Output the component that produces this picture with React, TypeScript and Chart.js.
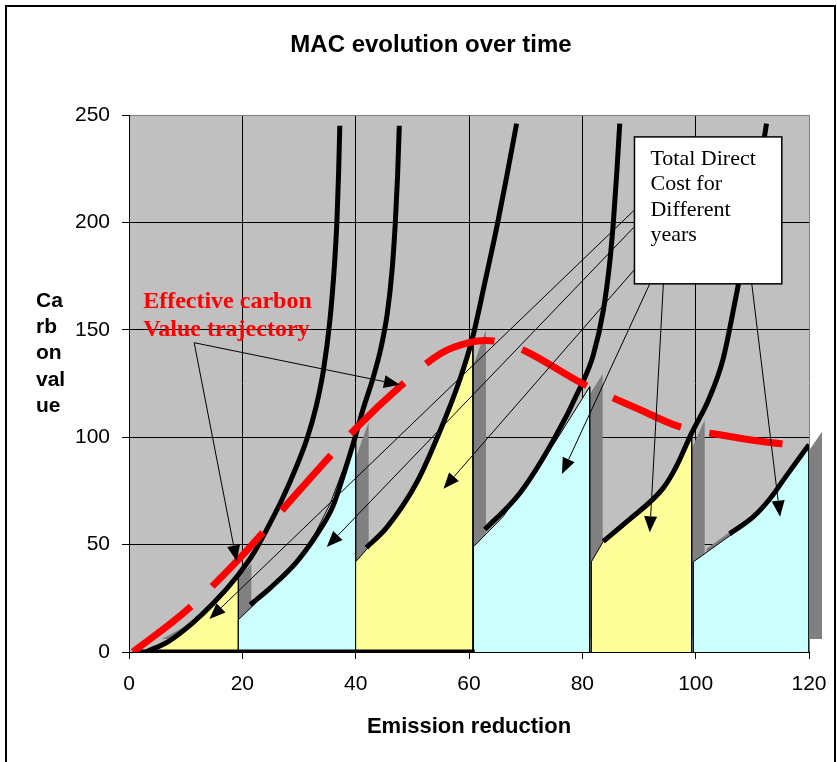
import React, { useEffect, useRef } from "react";
import { Chart, registerables } from "chart.js";

Chart.register(...registerables);

// ---------- text ----------
const chartTitle = "MAC evolution over time";
const xAxisTitle = "Emission reduction";
const yAxisTitleLines = ["Ca", "rb", "on", "val", "ue"];
const trajectoryLabel = ["Effective carbon", "Value trajectory"];
const costBoxLines = ["Total Direct", "Cost for", "Different", "years"];

// ---------- ticks ----------
const xTickValues = [0, 20, 40, 60, 80, 100, 120];
const yTickValues = [0, 50, 100, 150, 200, 250];

// ---------- total direct cost areas (one per year) ----------
const area1X = [3.5, 7, 11, 15, 19.3];
const area1Y = [0, 5, 13, 23, 35];
const area2X = [19.3, 24, 29.6, 33, 35.5, 37.8, 40];
const area2Y = [15, 27, 42, 56, 69, 85, 101];
const area3X = [40, 42, 45.5, 50.8, 54.9, 58.4, 60.7];
const area3Y = [42, 48, 57, 78, 103, 127, 144];
const area4X = [60.8, 66, 69, 75.5, 81.3];
const area4Y = [49, 63, 74, 99, 123.5];
const area5X = [81.6, 83.7, 94.3, 96.6, 99.3];
const area5Y = [42, 51.5, 76.4, 86.4, 102];
const area6X = [99.6, 110.2, 114.9, 120];
const area6Y = [42, 62, 77, 96.5];

// ---------- MAC curves ----------
const macAX = [3, 7, 11, 15, 19.3, 22, 24.3, 27, 29.5, 31.5, 33, 34.3, 35.4, 36.2, 36.7, 37, 37.2];
const macAY = [0, 5, 13, 23, 36, 46, 57, 71, 86, 100, 114, 131, 153, 178, 201, 224, 245];
const macBX = [21.4, 25, 29.6, 33.7, 36, 37.8, 39.9, 41.3, 43, 44.5, 45.6, 46.4, 47, 47.4, 47.7];
const macBY = [22, 30, 42, 57, 68, 82, 100, 113, 127, 142, 158, 177, 200, 222, 245];
const macCX = [41.9, 45.5, 50.8, 54.9, 58.4, 60.6, 62.8, 65, 66.7, 68.4];
const macCY = [48.6, 58, 79, 103, 127, 146, 172, 199, 222, 246];
const macDX = [62.8, 69, 75, 79.6, 81.9, 83.7, 84.9, 85.5, 86.1, 86.6];
const macDY = [57, 74, 99, 123, 138, 159, 183, 201, 224, 246];
const macEX = [83.7, 88, 94.3, 96.6, 99.3, 102.2, 104.8, 107.3, 109.6, 111.2, 112.5];
const macEY = [51.5, 61, 76.4, 86.4, 102, 117, 136, 168, 199, 224, 246];
const macFX = [106, 110.2, 113, 116, 120];
const macFY = [55, 63, 71, 82, 96.5];
const baseX = [1, 61];
const baseY = [0, 0];

// ---------- effective carbon value trajectory ----------
const trajectoryX = [0.7, 10, 20, 30, 40, 48, 55, 60, 63, 66, 70, 80, 90, 97, 105, 115, 120];
const trajectoryY = [0, 19, 45, 75, 104, 124, 139, 144, 145, 144, 140, 125, 113, 105, 100.8, 97, 96.5];

// ---------- annotations (data coordinates) ----------
const trajectoryLabelAt = [2.5, 163];
const trajectoryArrowFrom = [11.5, 144];
const trajectoryArrowToX = [19.0, 47.8];
const trajectoryArrowToY = [42.2, 124.4];
const costBoxX = [89.2, 115.2];
const costBoxY = [239.8, 171.4];
const costArrowFromX = [89.2, 89.2, 89.2, 91.9, 94.3, 109.9];
const costArrowFromY = [205.8, 198, 178, 171.4, 171.4, 171.4];
const costArrowToX = [14.2, 34.9, 55.5, 76.4, 91.9, 114.9];
const costArrowToY = [15.4, 48.9, 76, 82.9, 55.7, 63];

const YELLOW = "#FFFF99";
const CYAN = "#CCFFFF";
const SANS = '"Liberation Sans", Arial, sans-serif';
const SERIF = '"Liberation Serif", "Times New Roman", serif';

const pts = (xs: number[], ys: number[]) => xs.map((x, i) => ({ x, y: ys[i] }));
const areaPts = (xs: number[], ys: number[]) => [
  { x: xs[0], y: 0 },
  ...pts(xs, ys),
  { x: xs[xs.length - 1], y: 0 },
];

function drawArrow(ctx: CanvasRenderingContext2D, x1: number, y1: number, x2: number, y2: number) {
  const ang = Math.atan2(y2 - y1, x2 - x1);
  const len = 16;
  const half = 6.5;
  const bx = x2 - len * Math.cos(ang);
  const by = y2 - len * Math.sin(ang);
  ctx.beginPath();
  ctx.moveTo(x1, y1);
  ctx.lineTo(bx, by);
  ctx.strokeStyle = "#000";
  ctx.lineWidth = 1;
  ctx.stroke();
  ctx.beginPath();
  ctx.moveTo(x2, y2);
  ctx.lineTo(bx + half * Math.sin(ang), by - half * Math.cos(ang));
  ctx.lineTo(bx - half * Math.sin(ang), by + half * Math.cos(ang));
  ctx.closePath();
  ctx.fillStyle = "#000";
  ctx.fill();
}

const decorPlugin = {
  id: "decor",
  beforeDraw(chart: any) {
    const { ctx, chartArea } = chart;
    ctx.save();
    ctx.fillStyle = "#fff";
    ctx.fillRect(0, 0, chart.width, chart.height);
    ctx.strokeStyle = "#000";
    ctx.lineWidth = 2;
    ctx.strokeRect(6, 6, 829, 800);
    ctx.fillStyle = "#C0C0C0";
    ctx.fillRect(chartArea.left, chartArea.top, chartArea.right - chartArea.left, chartArea.bottom - chartArea.top);
    // title
    ctx.fillStyle = "#000";
    ctx.font = `bold 24px ${SANS}`;
    ctx.textAlign = "center";
    ctx.textBaseline = "middle";
    ctx.fillText(chartTitle, 431, 45);
    // x title
    ctx.font = `bold 22px ${SANS}`;
    ctx.fillText(xAxisTitle, 469, 727);
    // y title (wrapped)
    ctx.font = `bold 21px ${SANS}`;
    ctx.textAlign = "left";
    ctx.textBaseline = "alphabetic";
    yAxisTitleLines.forEach((l, i) => ctx.fillText(l, 36, 307 + i * 26.2));
    ctx.restore();
  },
  beforeDatasetDraw(chart: any, args: any) {
    const ds = chart.data.datasets[args.index];
    if (!ds.areaColor) return;
    const el = args.meta.data;
    const ctx = chart.ctx;
    const poly = (dx: number, dy: number) => {
      ctx.beginPath();
      el.forEach((p: any, i: number) => {
        if (i === 0) ctx.moveTo(p.x + dx, p.y + dy);
        else ctx.lineTo(p.x + dx, p.y + dy);
      });
      ctx.closePath();
    };
    ctx.save();
    // drop shadow, offset up and to the right
    ctx.fillStyle = "#808080";
    poly(13, -13);
    ctx.fill();
    // the area itself
    ctx.fillStyle = ds.areaColor;
    poly(0, 0);
    ctx.fill();
    ctx.restore();
  },
  afterDraw(chart: any) {
    const { ctx } = chart;
    const xs = chart.scales.x;
    const ys = chart.scales.y;
    const px = (v: number) => xs.getPixelForValue(v);
    const py = (v: number) => ys.getPixelForValue(v);
    ctx.save();
    // trajectory label + arrows
    trajectoryArrowToX.forEach((tx, i) =>
      drawArrow(ctx, px(trajectoryArrowFrom[0]), py(trajectoryArrowFrom[1]), px(tx), py(trajectoryArrowToY[i]))
    );
    ctx.fillStyle = "#FF0000";
    ctx.font = `bold 24px ${SERIF}`;
    ctx.textAlign = "left";
    ctx.textBaseline = "middle";
    trajectoryLabel.forEach((l, i) => ctx.fillText(l, px(trajectoryLabelAt[0]), py(trajectoryLabelAt[1]) + i * 28));
    // cost arrows
    costArrowToX.forEach((tx, i) =>
      drawArrow(ctx, px(costArrowFromX[i]), py(costArrowFromY[i]), px(tx), py(costArrowToY[i]))
    );
    // cost box
    const bx = px(costBoxX[0]);
    const by = py(costBoxY[0]);
    const bw = px(costBoxX[1]) - bx;
    const bh = py(costBoxY[1]) - by;
    ctx.fillStyle = "#fff";
    ctx.fillRect(bx, by, bw, bh);
    ctx.strokeStyle = "#000";
    ctx.lineWidth = 1.5;
    ctx.strokeRect(bx, by, bw, bh);
    ctx.fillStyle = "#000";
    ctx.font = `22px ${SERIF}`;
    ctx.textBaseline = "alphabetic";
    costBoxLines.forEach((l, i) => ctx.fillText(l, bx + 16, by + 28 + i * 25.5));
    ctx.restore();
  },
};

export default function App() {
  const ref = useRef<HTMLCanvasElement | null>(null);
  useEffect(() => {
    if (!ref.current) return;
    const areas = [
      [area1X, area1Y, YELLOW],
      [area2X, area2Y, CYAN],
      [area3X, area3Y, YELLOW],
      [area4X, area4Y, CYAN],
      [area5X, area5Y, YELLOW],
      [area6X, area6Y, CYAN],
    ] as [number[], number[], string][];
    const macs = [
      [macAX, macAY],
      [macBX, macBY],
      [macCX, macCY],
      [macDX, macDY],
      [macEX, macEY],
      [macFX, macFY],
    ] as [number[], number[]][];
    const datasets: any[] = [];
    areas.forEach(([xs, ys, col], i) =>
      datasets.push({
        label: `Cost ${i + 1}`,
        data: areaPts(xs, ys),
        fill: false,
        areaColor: col,
        backgroundColor: col,
        borderColor: "#000",
        borderWidth: 1,
        pointRadius: 0,
        tension: 0,
        order: 100 - i,
      })
    );
    macs.forEach(([xs, ys], i) =>
      datasets.push({
        label: `MAC ${i + 1}`,
        data: pts(xs, ys),
        fill: false,
        borderColor: "#000",
        borderWidth: 5,
        pointRadius: 0,
        cubicInterpolationMode: "monotone",
        order: 20,
      })
    );
    datasets.push({
      label: "Base",
      data: pts(baseX, baseY),
      fill: false,
      borderColor: "#000",
      borderWidth: 5,
      pointRadius: 0,
      order: 15,
    });
    datasets.push({
      label: "Effective carbon value trajectory",
      data: pts(trajectoryX, trajectoryY),
      fill: false,
      borderColor: "#FF0000",
      borderWidth: 7,
      borderDash: [74, 29],
      borderCapStyle: "butt",
      pointRadius: 0,
      cubicInterpolationMode: "monotone",
      order: 5,
    });

    const tickFont = { family: SANS, size: 21 };
    const chart = new Chart(ref.current, {
      type: "line",
      data: { datasets },
      plugins: [decorPlugin],
      options: {
        responsive: false,
        animation: false,
        devicePixelRatio: 1,
        layout: { padding: { top: 115, right: 28, bottom: 0, left: 0 } },
        plugins: { legend: { display: false }, tooltip: { enabled: false }, title: { display: false } },
        scales: {
          x: {
            type: "linear",
            min: 0,
            max: 120,
            afterBuildTicks: (s: any) => {
              s.ticks = xTickValues.map((v) => ({ value: v }));
            },
            afterFit: (s: any) => {
              s.height = 110;
              s.paddingLeft = 0;
              s.paddingRight = 0;
            },
            ticks: { font: tickFont, color: "#000", padding: 13, maxRotation: 0, autoSkip: false },
            grid: {
              color: (c: any) => (c.tick && c.tick.value === 120 ? "#808080" : "#000"),
              tickColor: "#000",
              tickLength: 7,
              lineWidth: 1,
            },
            border: { color: "#000", width: 1 },
          },
          y: {
            type: "linear",
            min: 0,
            max: 250,
            afterBuildTicks: (s: any) => {
              s.ticks = yTickValues.map((v) => ({ value: v }));
            },
            afterFit: (s: any) => {
              s.width = 129;
              s.paddingTop = 0;
              s.paddingBottom = 0;
            },
            ticks: { font: tickFont, color: "#000", padding: 12, autoSkip: false },
            grid: {
              color: (c: any) => (c.tick && c.tick.value === 250 ? "#808080" : "#000"),
              tickColor: "#000",
              tickLength: 7,
              lineWidth: 1,
            },
            border: { color: "#000", width: 1 },
          },
        },
      } as any,
    });
    return () => chart.destroy();
  }, []);
  return (
    <div style={{ position: "absolute", left: 0, top: 0, width: 837, height: 762 }}>
      <canvas ref={ref} width={837} height={762} style={{ display: "block" }} />
    </div>
  );
}
